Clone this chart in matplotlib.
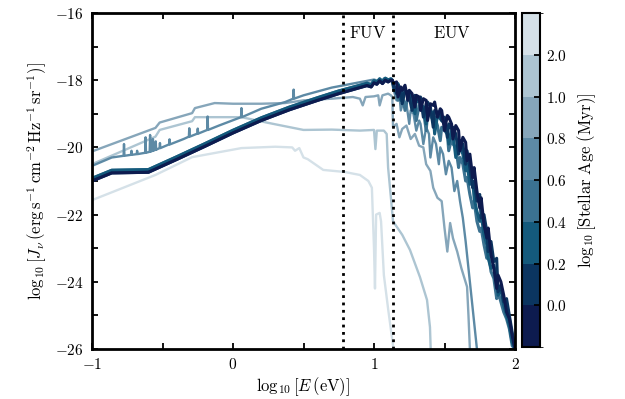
import numpy as np
import matplotlib
matplotlib.use("Agg")
import matplotlib.pyplot as plt
from matplotlib.colors import ListedColormap, BoundaryNorm
from matplotlib.cm import ScalarMappable

plt.rcParams['mathtext.fontset'] = 'cm'
plt.rcParams['font.family'] = 'serif'

# colour for each stellar age bin (young -> old)
age_colors = ["#0d1b4f", "#0b3560", "#145a7c", "#3b7291",
              "#5d8aa5", "#86a6ba", "#adc5d2", "#d5e1e8"]
age_ticks = ["0.0", "0.2", "0.4", "0.6", "0.8", "1.0", "2.0"]

# young stars: shared rise up to the FUV/EUV edge
rise_x = [-1, -0.86, -0.6, -0.4, -0.2, 0.0, 0.2, 0.4, 0.6, 0.75, 0.9, 0.95,
          0.98, 1.0, 1.02, 1.04, 1.06, 1.08, 1.1, 1.12]
rise_a = [-21.0, -20.76, -20.74, -20.36, -19.97, -19.57, -19.2, -18.88, -18.6,
          -18.4, -18.22, -18.16, -18.2, -18.08, -18.12, -18.02, -18.1, -18.0,
          -18.05, -18.0]
rise_b = [-20.92, -20.68, -20.66, -20.28, -19.89, -19.49, -19.12, -18.8, -18.52,
          -18.32, -18.15, -18.09, -18.13, -18.01, -18.06, -17.96, -18.04, -17.94,
          -17.99, -17.96]

# EUV tails of the young stars
tail_x = [1.13, 1.14, 1.16, 1.17, 1.19, 1.2, 1.22, 1.24, 1.25, 1.27,
          1.29, 1.3, 1.32, 1.33, 1.35, 1.37, 1.38, 1.4, 1.42, 1.43,
          1.45, 1.47, 1.48, 1.5, 1.52, 1.53, 1.55, 1.56, 1.58, 1.6,
          1.61, 1.63, 1.65, 1.66, 1.68, 1.7, 1.71, 1.73, 1.75, 1.76,
          1.78, 1.8, 1.81, 1.83, 1.85, 1.87, 1.88, 1.9, 1.92, 1.94,
          1.96, 1.98, 2.0]
tail_0 = [-18.0, -18.1, -18.05, -18.5, -18.2, -18.3, -18.15, -18.6, -18.3, -18.4,
          -18.8, -18.45, -18.5, -18.9, -18.55, -18.6, -19.2, -18.7, -18.75, -18.65,
          -19.1, -18.85, -18.9, -19.5, -19.05, -19.1, -19.3, -19.75, -19.35, -19.5,
          -20.1, -19.7, -19.85, -20.4, -20.2, -20.9, -20.6, -21.3, -21.8, -21.5,
          -22.3, -22.7, -22.4, -23.2, -23.6, -24.2, -23.8, -24.0, -24.4, -24.9,
          -25.1, -25.6, -26.0]
tail_1 = [-18.02, -18.2, -18.4, -18.15, -18.25, -18.7, -18.3, -18.35, -18.5, -18.9,
          -18.45, -18.55, -18.6, -18.5, -19.1, -18.7, -18.65, -18.8, -19.4, -18.9,
          -18.95, -19.0, -19.2, -19.1, -19.7, -19.3, -19.45, -19.4, -19.6, -20.2,
          -19.8, -19.9, -20.5, -20.1, -20.6, -21.2, -21.0, -21.6, -21.4, -22.1,
          -22.0, -22.5, -23.1, -22.8, -23.4, -23.3, -24.3, -24.1, -24.6, -24.5,
          -25.0, -25.5, -26.0]
tail_2 = [-18.0, -18.15, -18.35, -18.1, -18.6, -18.25, -18.3, -18.45, -18.4, -18.55,
          -19.0, -18.6, -18.65, -18.7, -18.8, -19.3, -18.85, -18.9, -19.0, -19.6,
          -19.05, -19.15, -19.2, -19.3, -19.45, -19.9, -19.5, -19.6, -20.3, -19.8,
          -20.0, -20.2, -20.7, -20.5, -21.1, -21.0, -21.5, -21.9, -22.2, -22.0,
          -22.6, -22.9, -23.3, -23.6, -23.5, -23.9, -24.4, -24.2, -24.7, -25.0,
          -25.3, -25.8, -26.0]
tail_3 = [-18.0, -18.3, -18.2, -18.6, -18.35, -18.4, -18.9, -18.5, -18.55, -18.6,
          -18.7, -19.2, -18.75, -18.8, -18.9, -19.5, -19.0, -19.05, -19.2, -19.1,
          -19.35, -19.8, -19.4, -19.5, -19.6, -20.1, -19.75, -19.9, -20.0, -20.6,
          -20.3, -20.5, -21.0, -20.9, -21.4, -21.8, -21.6, -22.2, -22.5, -22.4,
          -22.9, -23.3, -23.1, -23.7, -23.9, -24.5, -24.3, -24.6, -24.9, -25.1,
          -25.4, -25.9, -26.0]

# age 0.8 bin: line with narrow emission spikes
e_08 = [-1, -0.86, -0.776, -0.773, -0.770, -0.723, -0.72, -0.717,
        -0.683, -0.68, -0.677, -0.623, -0.62, -0.617, -0.591, -0.588, -0.585,
        -0.571, -0.568, -0.565, -0.551, -0.548, -0.545, -0.521, -0.518, -0.515,
        -0.453, -0.45, -0.447, -0.35, -0.313, -0.31, -0.307, -0.253, -0.25,
        -0.247, -0.183, -0.18, -0.177, -0.1, 0.057, 0.06, 0.063, 0.2, 0.37,
        0.427, 0.43, 0.433, 0.5, 0.7, 0.9, 1.0, 1.05, 1.07, 1.1,
        1.13, 1.14, 1.16, 1.18, 1.19, 1.21, 1.23, 1.25, 1.26, 1.28,
        1.3, 1.32, 1.33, 1.35, 1.37, 1.39, 1.4, 1.42, 1.44, 1.46,
        1.47, 1.49, 1.51, 1.53, 1.55, 1.57, 1.59, 1.61, 1.63, 1.65,
        1.67, 1.69, 1.71, 1.73]
j_08 = [-20.55, -20.3, -20.25, -19.9, -20.25, -20.22, -20.1, -20.22,
        -20.2, -20.1, -20.2, -20.16, -19.7, -20.16, -20.13, -19.63, -20.13,
        -20.1, -19.75, -20.1, -20.07, -19.82, -20.07, -20.02, -19.87, -20.02,
        -19.91, -19.76, -19.91, -19.75, -19.68, -19.43, -19.68, -19.59, -19.44,
        -19.59, -19.48, -19.08, -19.48, -19.35, -19.1, -18.83, -19.1, -18.85,
        -18.65, -18.55, -18.28, -18.55, -18.45, -18.22, -18.06, -17.98, -18.05,
        -17.95, -17.98,
        -18.0, -18.3, -18.6, -18.4, -18.9, -18.6, -18.7, -19.3, -18.9, -19.0,
        -19.5, -19.2, -19.3, -19.9, -19.4, -19.6, -20.3, -19.7, -19.9, -20.5,
        -20.0, -20.2, -20.8, -20.4, -20.6, -21.3, -21.0, -21.6, -22.1, -22.8,
        -23.6, -24.4, -25.2, -26.0]

# age 1.0 bin
e_10 = [-1, -0.55, -0.52, -0.29, -0.27, -0.13, 0.0, 0.2, 0.37, 0.5, 0.7, 0.85,
        0.9, 0.92, 0.94, 1.0, 1.03, 1.04, 1.06, 1.1, 1.12, 1.13, 1.135, 1.16,
        1.18, 1.2, 1.23, 1.26, 1.29, 1.32, 1.35, 1.37, 1.4, 1.42, 1.45, 1.48,
        1.5, 1.52, 1.54, 1.56, 1.59, 1.62, 1.66, 1.67, 1.68]
j_10 = [-20.12, -19.42, -19.26, -18.98, -18.83, -18.68, -18.7, -18.7, -18.68,
        -18.6, -18.55, -18.5, -18.55, -18.75, -18.5, -18.48, -18.45, -18.75,
        -18.45, -18.4, -18.45, -18.5, -19.4, -19.3, -19.7, -19.45, -19.35,
        -19.75, -19.6, -19.95, -20.0, -20.5, -20.7, -21.2, -21.5, -21.6,
        -22.4, -23.1, -22.25, -22.7, -23.1, -23.6, -24.15, -25.0, -26.0]

# age 2.0 bin
e_20 = [-1, -0.55, -0.52, -0.29, -0.27, 0.06, 0.25, 0.5, 0.7, 0.9, 1.0, 1.01,
        1.02, 1.07, 1.09, 1.1, 1.12, 1.135, 1.2, 1.255, 1.326, 1.376, 1.397,
        1.402]
j_20 = [-20.5, -19.68, -19.48, -19.22, -19.1, -19.1, -19.27, -19.48, -19.47,
        -19.5, -19.48, -20.05, -19.5, -19.5, -19.6, -20.6, -21.5, -22.2, -22.6,
        -23.05, -23.86, -24.54, -25.35, -26.0]

# oldest bin
e_old = [-1, -0.55, -0.29, 0.06, 0.3, 0.42, 0.44, 0.47, 0.5, 0.53, 0.64, 0.79,
         0.9, 0.96, 0.985, 1.0, 1.007, 1.015, 1.04, 1.05, 1.07, 1.1, 1.135, 1.14]
j_old = [-21.57, -20.82, -20.29, -20.02, -19.98, -20.0, -20.1, -20.02, -20.3,
         -20.35, -20.67, -20.73, -20.82, -21.0, -21.2, -23.0, -24.2, -22.0,
         -21.95, -22.2, -23.8, -24.8, -25.9, -26.0]

curves = [
    (e_old, j_old, 7),
    (e_20, j_20, 6),
    (e_10, j_10, 5),
    (e_08, j_08, 4),
    (rise_x + tail_x, rise_b + tail_3, 3),
    (rise_x + tail_x, rise_b + tail_2, 2),
    (rise_x + tail_x, rise_a + tail_1, 1),
    (rise_x + tail_x, rise_a + tail_0, 0),
]

fig = plt.figure(figsize=(6.25, 3.99), dpi=100)
ax = fig.add_axes([0.1472, 0.1253, 0.6768, 0.8421])
cax = fig.add_axes([0.8352, 0.1303, 0.0288, 0.8371])

for e, j, k in curves:
    lw = 2.2 if k < 4 else 1.7
    ax.plot(e, j, color=age_colors[k], lw=lw)

ax.axvline(np.log10(6.0), color='k', ls=':', lw=2)
ax.axvline(np.log10(13.6), color='k', ls=':', lw=2)
ax.text(0.955, -16.6, r'$\mathrm{FUV}$', fontsize=12, ha='center', va='center')
ax.text(1.55, -16.6, r'$\mathrm{EUV}$', fontsize=12, ha='center', va='center')

ax.set_xlim(-1, 2)
ax.set_ylim(-26, -16)
ax.set_xticks([-1, 0, 1, 2])
ax.set_xticklabels([r'$-1$', r'$0$', r'$1$', r'$2$'], fontsize=11)
ax.set_xticks([-0.5, 0.5, 1.5], minor=True)
ax.set_yticks([-26, -24, -22, -20, -18, -16])
ax.set_yticklabels([r'$-26$', r'$-24$', r'$-22$', r'$-20$', r'$-18$', r'$-16$'],
                   fontsize=11)
ax.set_yticks([-25, -23, -21, -19, -17], minor=True)
ax.tick_params(which='both', direction='in', top=True, right=True,
               length=4, width=1.3, pad=6)
for s in ax.spines.values():
    s.set_linewidth(2)

ax.set_xlabel(r'$\log_{10}[E\,(\mathrm{eV})]$', fontsize=12, labelpad=2)
ax.set_ylabel(r'$\log_{10}[J_\nu\,(\mathrm{erg\,s^{-1}\,cm^{-2}\,Hz^{-1}\,sr^{-1}})]$',
              fontsize=12, labelpad=4)

cmap = ListedColormap(age_colors)
norm = BoundaryNorm(np.arange(9), cmap.N)
sm = ScalarMappable(norm=norm, cmap=cmap)
cb = fig.colorbar(sm, cax=cax, ticks=np.arange(1, 8))
cb.ax.set_yticklabels([r'$%s$' % t for t in age_ticks], fontsize=11)
cb.ax.tick_params(direction='in', length=4, width=1.3, pad=4)
cb.outline.set_linewidth(1.5)
cb.set_label(r'$\log_{10}[\mathrm{Stellar\ Age\ (Myr)}]$', fontsize=12, labelpad=6)

fig.savefig("out.png", dpi=100)
